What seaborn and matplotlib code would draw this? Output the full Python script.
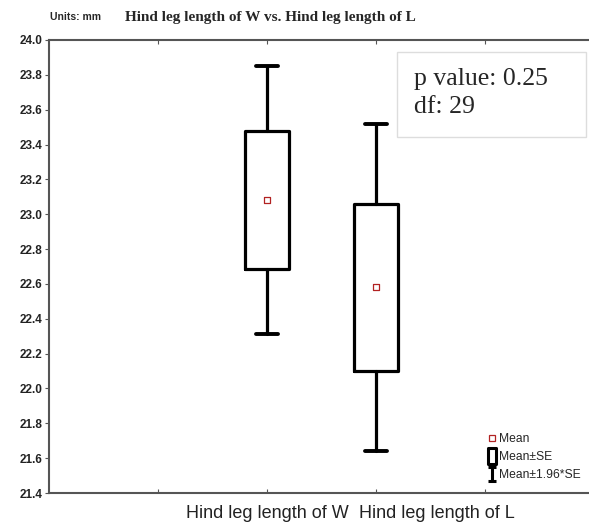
import matplotlib
matplotlib.use("Agg")
import matplotlib.pyplot as plt
from matplotlib.lines import Line2D
from matplotlib.patches import Rectangle
from matplotlib.path import Path
import pandas as pd
import seaborn as sns

# values (units: mm)
groups = ["Hind leg length of W", "Hind leg length of L"]
means = [23.08, 22.58]
se_low = [22.685, 22.10]
se_high = [23.475, 23.06]
ci_low = [22.31, 21.64]
ci_high = [23.85, 23.52]
p_value = "0.25"
dof = "29"

df = pd.DataFrame({"group": groups, "mean": means, "pos": [1, 2]})

sns.set_style("white")
plt.rcParams["font.family"] = ["Liberation Sans", "DejaVu Sans"]

fig = plt.figure(figsize=(5.89, 5.29), dpi=100)
ax = fig.add_axes([49 / 589, 1 - 493 / 529, 545 / 589, 453 / 529])

# box = mean +- SE, whiskers = mean +- 1.96*SE
stats = []
for i in range(len(groups)):
    stats.append({"med": means[i], "q1": se_low[i], "q3": se_high[i],
                  "whislo": ci_low[i], "whishi": ci_high[i], "mean": means[i],
                  "fliers": [], "label": groups[i]})
ax.bxp(stats, positions=df["pos"], widths=0.4, capwidths=0.21,
       showfliers=False, showmeans=False,
       boxprops=dict(color="black", linewidth=2.3),
       whiskerprops=dict(color="black", linewidth=2.3),
       capprops=dict(color="black", linewidth=2.8),
       medianprops=dict(linewidth=0))

sns.scatterplot(data=df, x="pos", y="mean", ax=ax, marker="s", s=22,
                facecolor="white", edgecolor="#b22222", linewidth=0.9,
                zorder=5, legend=False)

label_pad = 9
ax.set_xlim(-1, 4)
ax.set_ylim(21.4, 24.0)
ax.set_yticks([21.4 + 0.2 * k for k in range(14)])
ax.set_yticklabels([f"{21.4 + 0.2 * k:.1f}" for k in range(14)],
                   fontsize=8.5, fontweight="bold", color="#222222")
ax.set_xticks([0, 1, 2, 3])
ax.set_xticklabels(["", groups[0], "", ""], fontsize=13, color="#222222")
# second label sits a bit right of its tick in the reference
ax.annotate(groups[1], xy=(2, 0), xycoords=("data", "axes fraction"),
            xytext=(-12.2, -label_pad), textcoords="offset points",
            ha="left", va="top", fontsize=13, color="#222222")
ax.set_xlabel("")
ax.set_ylabel("")
ax.tick_params(axis="x", direction="in", length=3, width=0.8, top=True,
               bottom=True, color="#555555", pad=label_pad)
ax.tick_params(axis="y", direction="out", length=3, width=0.8, left=True,
               color="#555555", pad=2)

for side in ["top", "bottom", "left"]:
    ax.spines[side].set_color("#555555")
    ax.spines[side].set_linewidth(1.5)
ax.spines["right"].set_visible(False)

# title line
fig.text(50 / 589, 1 - 17 / 529, "Units: mm", fontsize=7.5, fontweight="bold",
         va="center", ha="left")
fig.text(125 / 589, 1 - 17 / 529, "Hind leg length of W vs. Hind leg length of L",
         fontsize=11, fontweight="bold", va="center", ha="left",
         family=["Liberation Serif", "DejaVu Serif"])

# stats box
fig.patches.append(Rectangle((397 / 589, 1 - 137 / 529), 189 / 589, 85 / 529,
                             transform=fig.transFigure, facecolor="white",
                             edgecolor="#dddddd", linewidth=1.0, zorder=6))
fig.text(414 / 589, 1 - 93 / 529, f"p value: {p_value}\ndf: {dof}",
         fontsize=18.5, va="center", ha="left", linespacing=1.38,
         family=["Liberation Serif", "DejaVu Serif"], zorder=7)

# legend with custom glyphs
box_path = Path([(-0.5, -1), (0.5, -1), (0.5, 1), (-0.5, 1), (-0.5, -1)],
                [Path.MOVETO, Path.LINETO, Path.LINETO, Path.LINETO, Path.CLOSEPOLY])
i_path = Path([(-0.6, 1), (0.6, 1), (0, 1), (0, -1), (-0.6, -1), (0.6, -1)],
              [Path.MOVETO, Path.LINETO, Path.MOVETO, Path.LINETO, Path.MOVETO, Path.LINETO])
handles = [
    Line2D([], [], marker="s", linestyle="none", markersize=4,
           markerfacecolor="white", markeredgecolor="#b22222", markeredgewidth=0.9),
    Line2D([], [], marker=box_path, linestyle="none", markersize=11,
           markerfacecolor="none", markeredgecolor="black", markeredgewidth=2.2),
    Line2D([], [], marker=i_path, linestyle="none", markersize=10,
           markerfacecolor="none", markeredgecolor="black", markeredgewidth=2.2),
]
ax.legend(handles, ["Mean", "Mean±SE", "Mean±1.96*SE"], loc="lower right",
          bbox_to_anchor=(0.992, 0.008), frameon=False, fontsize=8.7,
          handlelength=0.8, handletextpad=0.25, labelspacing=0.5,
          borderaxespad=0.3)

fig.savefig("out.png", dpi=100)
